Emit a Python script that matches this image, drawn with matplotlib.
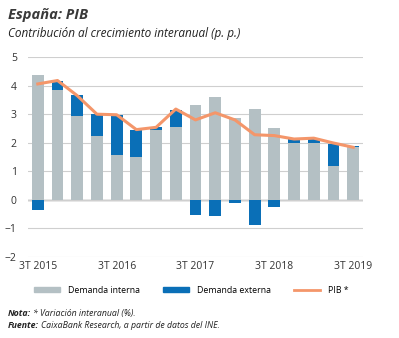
import matplotlib
matplotlib.use('Agg')
import matplotlib.pyplot as plt
from matplotlib.patches import Patch
from matplotlib.lines import Line2D
import numpy as np

plt.rcParams['font.family'] = ['Open Sans', 'DejaVu Sans']

quarters = ['3T 2015', '4T 2015', '1T 2016', '2T 2016', '3T 2016', '4T 2016', '1T 2017', '2T 2017',
            '3T 2017', '4T 2017', '1T 2018', '2T 2018', '3T 2018', '4T 2018', '1T 2019', '2T 2019', '3T 2019']
demanda_interna = [4.39, 3.86, 2.92, 2.22, 1.58, 1.50, 2.46, 2.55, 3.31, 3.61, 2.87, 3.18, 2.51, 1.98, 1.98, 1.17, 1.84]
demanda_externa = [-0.35, 0.29, 0.76, 0.78, 1.40, 0.96, 0.08, 0.61, -0.52, -0.56, -0.10, -0.88, -0.25, 0.15, 0.15, 0.78, 0.03]
pib = [4.06, 4.18, 3.65, 3.00, 2.98, 2.46, 2.54, 3.18, 2.80, 3.05, 2.80, 2.28, 2.25, 2.13, 2.16, 1.99, 1.84]

GRAY = '#b4c0c4'
BLUE = '#0a6fb7'
ORANGE = '#f4966a'

fig = plt.figure(figsize=(3.99, 3.38), dpi=100)
ax = fig.add_axes([0.07, 0.24, 0.84, 0.591])

x = np.arange(len(quarters))
ext = np.array(demanda_externa)
dint = np.array(demanda_interna)
ext_bottom = np.where(ext >= 0, dint, 0)
ax.bar(x, dint, width=0.6, color=GRAY, zorder=2)
ax.bar(x, ext, bottom=ext_bottom, width=0.6, color=BLUE, zorder=2)
ax.plot(x, pib, color=ORANGE, lw=2.2, zorder=3)

ax.set_xlim(-0.5, len(quarters) - 0.5)
ax.set_ylim(-2, 5)
ax.set_yticks(range(-2, 6))
ax.grid(axis='y', color='#cfcfcf', lw=0.8, zorder=0)
ax.axhline(0, color='#8a8a8a', lw=1.0, zorder=1)
for s in ax.spines.values():
    s.set_visible(False)
ax.tick_params(axis='y', length=0, labelsize=7.5, colors='#333333', pad=8)
ax.set_xticks(x[::4])
ax.set_xticklabels(quarters[::4])
ax.tick_params(axis='x', length=0, labelsize=7.5, colors='#333333', pad=3)

fig.text(0.02, 0.955, 'España: PIB', fontsize=10.5, fontweight='bold', style='italic',
         color='#3a3a3a', va='center')
fig.text(0.02, 0.9, 'Contribución al crecimiento interanual (p. p.)', fontsize=8.5,
         style='italic', color='#222222', va='center')

handles = [Patch(color=GRAY), Patch(color=BLUE), Line2D([], [], color=ORANGE, lw=2)]
fig.legend(handles, ['Demanda interna', 'Demanda externa', 'PIB *'], loc='center left',
           bbox_to_anchor=(0.085, 0.142), ncol=3, frameon=False, fontsize=6.3,
           handlelength=3.0, handleheight=0.5, columnspacing=2.6, handletextpad=0.9,
           borderpad=0, borderaxespad=0)

fig.text(0.02, 0.072, 'Nota:', fontsize=6.3, style='italic', fontweight='bold',
         color='#222222', va='center')
fig.text(0.083, 0.072, '* Variación interanual (%).', fontsize=6.3, style='italic',
         color='#222222', va='center')
fig.text(0.02, 0.037, 'Fuente:', fontsize=6.3, style='italic', fontweight='bold',
         color='#222222', va='center')
fig.text(0.103, 0.037, 'CaixaBank Research, a partir de datos del INE.', fontsize=6.3,
         style='italic', color='#222222', va='center')

fig.savefig('out.png', dpi=100)
